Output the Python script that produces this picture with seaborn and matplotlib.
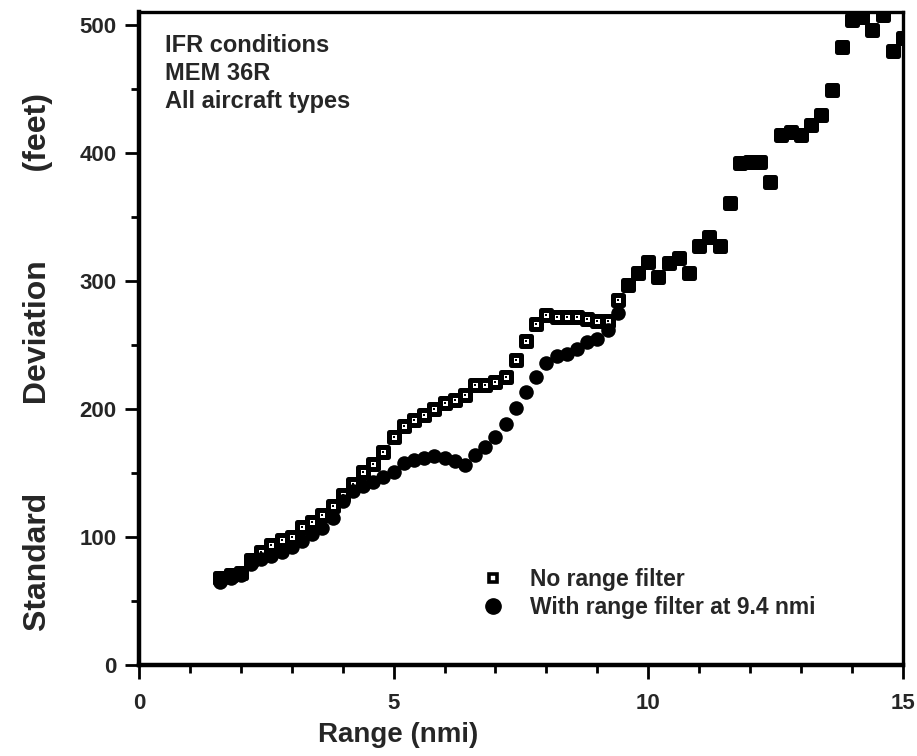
import matplotlib.pyplot as plt
import seaborn as sns
from matplotlib.lines import Line2D

# range (nmi) where the two series differ
range_near = [1.6, 1.8, 2.0, 2.2, 2.4, 2.6, 2.8, 3.0, 3.2, 3.4,
              3.6, 3.8, 4.0, 4.2, 4.4, 4.6, 4.8, 5.0, 5.2, 5.4,
              5.6, 5.8, 6.0, 6.2, 6.4, 6.6, 6.8, 7.0, 7.2, 7.4,
              7.6, 7.8, 8.0, 8.2, 8.4, 8.6, 8.8, 9.0, 9.2, 9.4]
sd_no_filter = [68, 70, 72, 82, 88, 94, 98, 100, 108, 112,
                117, 124, 133, 141, 151, 157, 166, 178, 187, 191,
                195, 200, 205, 207, 211, 219, 219, 221, 225, 238,
                253, 266, 273, 272, 272, 272, 270, 269, 269, 285]
sd_with_filter = [65, 68, 70, 79, 83, 85, 88, 92, 97, 102,
                  107, 115, 128, 136, 140, 143, 147, 151, 158, 160,
                  162, 163, 162, 159, 156, 164, 170, 178, 188, 201,
                  213, 225, 236, 241, 243, 247, 252, 255, 262, 275]

# beyond the filter both series are the same
range_far = [9.6, 9.8, 10.0, 10.2, 10.4, 10.6, 10.8, 11.0, 11.2, 11.4,
             11.6, 11.8, 12.0, 12.2, 12.4, 12.6, 12.8, 13.0, 13.2, 13.4,
             13.6, 13.8, 14.0, 14.2, 14.4, 14.6, 14.8, 15.0]
sd_far = [297, 306, 315, 303, 314, 318, 306, 327, 334, 327,
          361, 392, 393, 393, 377, 414, 416, 414, 422, 430,
          449, 483, 504, 506, 496, 508, 480, 490]

notes = ["IFR conditions", "MEM 36R", "All aircraft types"]
legend_labels = ["No range filter", "With range filter at 9.4 nmi"]

sns.set_style("ticks")
plt.rcParams['font.family'] = ['Liberation Sans', 'DejaVu Sans']
plt.rcParams['font.weight'] = 'bold'

fig = plt.figure(figsize=(9.17, 7.56), dpi=100)
ax = fig.add_axes([0.1516, 0.1204, 0.833, 0.8636])

all_range = range_near + range_far
no_filter = sd_no_filter + sd_far
with_filter = sd_with_filter + sd_far

# hollow squares with a small dot in the middle
sns.scatterplot(x=all_range, y=no_filter, marker='s', s=52, color='white',
                edgecolor='black', linewidth=3.6, ax=ax, zorder=3)
sns.scatterplot(x=range_near, y=sd_no_filter, marker='s', s=3, color='black',
                linewidth=0, ax=ax, zorder=4)
# filled circles on top
sns.scatterplot(x=all_range, y=with_filter, marker='o', s=110, color='black',
                linewidth=0, ax=ax, zorder=5)

ax.set_xlim(0, 15)
ax.set_ylim(0, 510)
ax.set_xticks([0, 5, 10, 15])
ax.set_xticks(range(0, 16), minor=True)
ax.set_yticks([0, 100, 200, 300, 400, 500])
ax.set_yticks(range(0, 501, 50), minor=True)
ax.tick_params(axis='both', which='major', direction='out', length=10, width=2,
               labelsize=16, color='black')
ax.tick_params(axis='x', which='major', pad=10)
ax.tick_params(axis='y', which='major', pad=6)
ax.tick_params(axis='both', which='minor', direction='out', length=6, width=2,
               color='black')
for lab in ax.get_xticklabels() + ax.get_yticklabels():
    lab.set_fontweight('bold')

for side in ['left', 'bottom']:
    ax.spines[side].set_linewidth(3.2)
for side in ['top', 'right']:
    ax.spines[side].set_linewidth(2.4)
for sp in ax.spines.values():
    sp.set_color('black')

ax.set_xlabel("Range (nmi)", fontsize=20, fontweight='bold')
ax.xaxis.set_label_coords(0.339, -0.088)
ax.set_ylabel("Standard          Deviation          (feet)", fontsize=23,
              fontweight='bold')
ax.yaxis.set_label_coords(-0.113, 0.464)

ax.text(0.034, 0.967, "\n".join(notes), transform=ax.transAxes, fontsize=17,
        fontweight='bold', va='top', ha='left', linespacing=1.28)

handles = [Line2D([], [], marker='s', ms=6, mfc='white', mec='black', mew=2.6,
                  ls='none'),
           Line2D([], [], marker='o', ms=11, mfc='black', mec='black', ls='none')]
leg = ax.legend(handles, legend_labels, loc='upper left',
                bbox_to_anchor=(0.431, 0.166), frameon=False, fontsize=16.5,
                handletextpad=1.0, labelspacing=0.2, borderpad=0,
                handlelength=1.2)
for t in leg.get_texts():
    t.set_fontweight('bold')

fig.savefig("out.png", dpi=100)
